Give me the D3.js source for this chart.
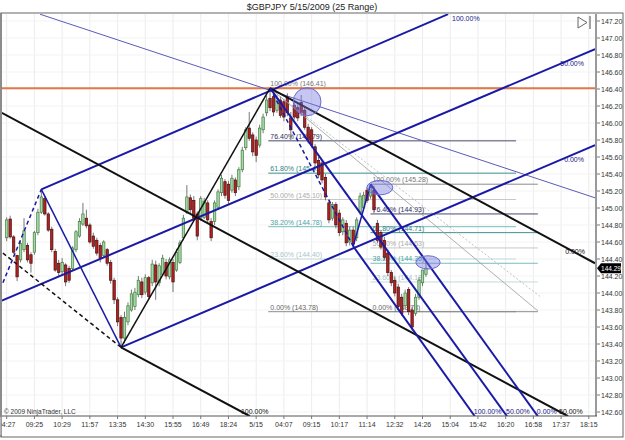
<!DOCTYPE html>
<html>
<head>
<meta charset="utf-8">
<script src="https://cdn.jsdelivr.net/npm/d3@7"></script>
<style>
  body { margin: 0; background: #fff; }
  text { font-family: "Liberation Sans", Arial, sans-serif; }
</style>
</head>
<body>
<div id="chart"></div>
<script>
// $GBPJPY 25 range bars, 5/15/2009
const barOpen = [144.65,144.87,144.66,144.44,144.39,144.51,144.56,144.45,144.48,144.71,144.95,145.11,144.93,144.75,144.49,144.35,144.25,144.33,144.29,144.29,144.51,144.67,144.81,144.88,144.80,144.67,144.62,144.56,144.44,144.51,144.36,144.15,143.92,143.71,143.47,143.66,143.80,143.84,143.98,144.13,144.01,144.18,144.12,144.33,144.12,144.22,144.36,144.19,144.36,144.27,144.36,144.65,144.95,145.12,145.09,144.93,144.88,144.89,145.06,144.84,144.84,145.01,145.18,145.31,145.28,145.21,145.33,145.25,145.45,145.71,145.94,145.86,145.80,145.74,145.92,146.12,146.29,146.31,146.15,146.27,146.25,146.31,146.06,146.21,146.18,146.24,146.15,145.95,145.92,145.72,145.56,145.53,145.36,145.06,144.88,145.04,144.94,144.72,144.82,144.60,144.74,144.65,144.95,145.00,145.21,145.14,145.21,144.82,144.71,144.62,144.47,144.24,144.15,144.07,143.95,143.85,144.04,143.80,143.76,143.95,144.12,144.22];
const barHigh = [144.89,144.91,144.68,144.45,144.61,144.88,144.59,144.48,144.73,144.99,145.22,145.14,144.95,144.78,144.52,144.39,144.41,144.35,144.32,144.55,144.74,144.88,145.06,144.98,144.82,144.71,144.65,144.59,144.62,144.53,144.39,144.18,143.95,143.74,143.78,143.89,144.04,144.06,144.20,144.18,144.22,144.20,144.39,144.38,144.35,144.45,144.40,144.42,144.40,144.52,144.62,144.92,145.27,145.16,145.14,144.96,145.14,145.12,145.09,144.88,145.09,145.22,145.39,145.34,145.32,145.39,145.36,145.48,145.72,145.95,146.13,145.89,145.84,145.98,146.11,146.32,146.41,146.34,146.33,146.31,146.28,146.35,146.13,146.24,146.22,146.33,146.19,145.99,145.95,145.75,145.60,145.56,145.40,145.09,145.07,145.07,144.98,144.89,144.86,144.78,144.78,144.89,145.18,145.19,145.24,145.28,145.26,144.86,144.74,144.66,144.51,144.27,144.19,144.11,143.99,144.04,144.07,143.84,143.99,144.19,144.27,144.36];
const barLow = [144.61,144.64,144.46,144.14,144.36,144.48,144.36,144.24,144.45,144.68,144.93,144.91,144.72,144.48,144.25,144.19,144.21,144.08,144.12,144.27,144.48,144.65,144.79,144.76,144.58,144.52,144.44,144.36,144.41,144.32,144.11,143.87,143.61,143.36,143.41,143.62,143.78,143.80,143.95,143.94,143.98,143.92,144.08,143.92,144.08,144.20,144.16,144.16,144.01,144.25,144.34,144.62,144.93,144.94,144.85,144.62,144.85,144.87,144.82,144.61,144.80,144.98,145.14,145.11,145.05,145.18,145.14,145.21,145.42,145.68,145.79,145.61,145.54,145.71,145.88,146.08,146.14,146.08,146.12,146.06,146.02,146.08,145.80,146.04,146.02,146.08,145.92,145.76,145.71,145.49,145.35,145.29,145.09,144.82,144.85,144.76,144.67,144.68,144.55,144.56,144.54,144.61,144.92,144.96,145.06,145.11,144.94,144.59,144.51,144.39,144.20,144.08,143.96,143.80,143.73,143.81,143.74,143.56,143.73,143.92,144.08,144.19];
const barClose = [144.86,144.66,144.48,144.19,144.58,144.73,144.39,144.35,144.71,144.95,145.13,144.93,144.74,144.51,144.27,144.24,144.36,144.13,144.15,144.53,144.72,144.84,144.93,144.79,144.60,144.55,144.47,144.41,144.60,144.35,144.15,143.92,143.66,143.47,143.71,143.85,143.99,144.01,144.15,143.98,144.18,143.96,144.34,144.13,144.32,144.41,144.20,144.39,144.13,144.48,144.59,144.88,145.13,144.98,144.88,144.67,145.11,145.08,144.86,144.65,145.06,145.19,145.35,145.15,145.09,145.35,145.18,145.45,145.68,145.92,145.82,145.66,145.62,145.94,146.07,146.27,146.18,146.13,146.29,146.09,146.07,146.12,145.92,146.07,146.06,146.12,145.95,145.80,145.74,145.53,145.39,145.33,145.13,144.86,145.04,144.80,144.71,144.86,144.59,144.74,144.58,144.86,145.14,145.15,145.09,145.24,144.98,144.62,144.54,144.42,144.24,144.12,144.00,143.84,143.76,144.00,143.78,143.60,143.95,144.15,144.27,144.29];

const timeLabels = ["04:27","09:25","10:29","11:57","13:35","14:30","15:55","16:49","18:24","5/15","04:07","09:15","10:17","11:14","12:32","14:26","15:04","15:42","16:20","16:58","17:37","18:15"];
const priceTicks = [147.20,147.00,146.80,146.60,146.40,146.20,146.00,145.80,145.60,145.40,145.20,145.00,144.80,144.60,144.40,144.20,144.00,143.80,143.60,143.40,143.20,143.00,142.80,142.60];
const lastPrice = 144.29;
const swingHighLine = 146.41;

// pitchforks: each line is [[bar, price], [bar, price]]
const forkLevels = ["100.00%", "50.00%", "0.00%"];
const blueForkUp = [[[10,145.22],[127.4,147.28]], [[-1.4,143.91],[169.8,146.87]], [[33,143.36],[169.8,145.74]]];
const blueForkUpHandle = [[-1.1,144.12],[10,145.22],[33,143.36]];
const blackFork = [[[33,143.36],[70.2,142.55]], [[-1.4,146.12],[162,142.55]], [[76,146.41],[169.8,144.35]]];
const blackForkHandle = [[-1.1,144.47],[33,143.36],[76,146.41]];
const blueForkDown = [[[100,144.55],[135.1,142.55]], [[76,146.41],[144.4,142.55]], [[105,145.28],[153.3,142.55]]];
const blueForkDownHandle = [[76,146.41],[100,144.55],[105,145.28]];

const thinTrend = [[9.6,147.28],[169.8,145.12]];
const grayRays = [[[76,146.41],[153.3,143.79]], [[80.3,146.27],[153.9,143.96]]];

// fibonacci retracements
const fibRatios = ["100.00%","76.40%","61.80%","50.00%","38.20%","23.60%","0.00%"];
const fibPricesA = [146.41,145.79,145.41,145.10,144.78,144.40,143.78];
const fibPricesB = [145.28,144.93,144.71,144.53,144.35,144.13,143.78];
const fibSpanA = [75.5, 147];
const fibSpanB = [105, 153.3];

// ellipses: [bar, price, bar radius, price radius]
const ellipses = [[86.7,146.25,4.0,0.165],[107.7,145.24,3.75,0.085],[121.6,144.36,3.5,0.078]];

function createChart(elementId) {
  const width = 625, height = 440;
  const plot = {left: 2, right: 595, top: 14, bottom: 416};

  const svg = d3.select(elementId).append("svg")
    .attr("width", width).attr("height", height);

  const x = d3.scaleLinear().domain([0, 168]).range([6.7, 588.8]);
  const y = d3.scaleLinear().domain([142.6, 147.2]).range([412, 21]);

  svg.append("defs").append("clipPath").attr("id", "plotclip")
    .append("rect").attr("x", plot.left).attr("y", plot.top)
    .attr("width", plot.right - plot.left).attr("height", plot.bottom - plot.top);

  // title and frame
  svg.append("text").attr("x", 312).attr("y", 10).attr("text-anchor", "middle")
    .attr("font-size", 9).attr("fill", "#222").text("$GBPJPY  5/15/2009 (25 Range)");
  svg.append("rect").attr("x", 1).attr("y", 13).attr("width", 622).attr("height", 424)
    .attr("fill", "none").attr("stroke", "#666").attr("stroke-width", 1);

  // grid
  const grid = svg.append("g").attr("clip-path", "url(#plotclip)");
  grid.selectAll(".vgrid").data(timeLabels).join("line")
    .attr("x1", (d, i) => x(i * 8)).attr("x2", (d, i) => x(i * 8))
    .attr("y1", plot.top).attr("y2", plot.bottom)
    .attr("stroke", "#ececec").attr("stroke-width", 1);
  grid.selectAll(".hgrid").data(priceTicks).join("line")
    .attr("x1", plot.left).attr("x2", plot.right)
    .attr("y1", d => y(d)).attr("y2", d => y(d))
    .attr("stroke", "#f3f3f3").attr("stroke-width", 1);

  const g = svg.append("g").attr("clip-path", "url(#plotclip)");
  const line = d3.line().x(d => x(d[0])).y(d => y(d[1]));

  // fib retracements
  const fibLine = ["#8c8c8c","#4b4b70","#3f8f8f","#c8c8c8","#78bcbc","#c4dada","#8c8c8c"];
  const fibText = ["#777","#30305a","#2f7f7f","#aaa","#4aa4a4","#a8c6c6","#666"];
  [[fibPricesA, fibSpanA], [fibPricesB, fibSpanB]].forEach(([prices, span]) => {
    g.append("g").selectAll("line").data(prices).join("line")
      .attr("x1", x(span[0])).attr("x2", x(span[1]))
      .attr("y1", d => y(d)).attr("y2", d => y(d))
      .attr("stroke", (d, i) => fibLine[i]).attr("stroke-width", 1);
    g.append("g").selectAll("text").data(prices).join("text")
      .attr("x", x(span[0]) + 2).attr("y", d => y(d) - 2)
      .attr("font-size", 7).attr("fill", (d, i) => fibText[i])
      .text((d, i) => `${fibRatios[i]} (${d.toFixed(2)})`);
  });

  // candles
  const bars = d3.range(barOpen.length);
  const bw = 2.4;
  g.append("g").selectAll("line").data(bars).join("line")
    .attr("x1", i => x(i)).attr("x2", i => x(i))
    .attr("y1", i => y(barHigh[i])).attr("y2", i => y(barLow[i]))
    .attr("stroke", "#555").attr("stroke-width", 0.8);
  g.append("g").selectAll("rect").data(bars).join("rect")
    .attr("x", i => x(i) - bw / 2).attr("width", bw)
    .attr("y", i => y(Math.max(barOpen[i], barClose[i])))
    .attr("height", i => Math.max(1, Math.abs(y(barOpen[i]) - y(barClose[i]))))
    .attr("fill", i => barClose[i] >= barOpen[i] ? "#a9d6a9" : "#b32020")
    .attr("stroke", i => barClose[i] >= barOpen[i] ? "#3f7f3f" : "#4a1010")
    .attr("stroke-width", 0.7);

  // horizontal line at swing high
  g.append("line").attr("x1", plot.left).attr("x2", plot.right)
    .attr("y1", y(swingHighLine)).attr("y2", y(swingHighLine))
    .attr("stroke", "#e0784a").attr("stroke-width", 2);

  // thin trend line and gray rays
  g.append("path").attr("d", line(thinTrend)).attr("fill", "none")
    .attr("stroke", "#5a5ab8").attr("stroke-width", 1);
  grayRays.forEach((r, k) => {
    g.append("path").attr("d", line(r)).attr("fill", "none")
      .attr("stroke", k ? "#b0b0b0" : "#9a9a9a").attr("stroke-width", 0.8)
      .attr("stroke-dasharray", k ? "2,2" : null);
  });

  // pitchforks
  function drawFork(lines, handle, color, labelPos) {
    lines.forEach(l => {
      g.append("path").attr("d", line(l)).attr("fill", "none")
        .attr("stroke", color).attr("stroke-width", 2);
    });
    g.append("path").attr("d", line(handle.slice(0, 2))).attr("fill", "none")
      .attr("stroke", color).attr("stroke-width", 1.5).attr("stroke-dasharray", "4,3");
    g.append("path").attr("d", line(handle.slice(1))).attr("fill", "none")
      .attr("stroke", color).attr("stroke-width", 1.5);
    lines.forEach((l, i) => {
      const p = labelPos(x(l[1][0]), y(l[1][1]));
      svg.append("text").attr("x", p[0]).attr("y", p[1])
        .attr("text-anchor", p[2]).attr("font-size", 7)
        .attr("fill", color === "#111" ? "#111" : "#20208a")
        .text(forkLevels[i]);
    });
  }
  drawFork(blueForkUp, blueForkUpHandle, "#1a1aa6", (px, py) => {
    if (py < plot.top + 5) return [452, 21, "start"];
    return [584, py + 17, "end"];
  });
  drawFork(blackFork, blackForkHandle, "#111", (px, py) => {
    if (px > plot.right - 5) return [585, py - 9, "end"];
    return [px - 9, plot.bottom - 2, "start"];
  });
  drawFork(blueForkDown, blueForkDownHandle, "#1a1aa6", (px, py) => [px - 1, plot.bottom - 2, "start"]);

  // ellipses
  g.append("g").selectAll("ellipse").data(ellipses).join("ellipse")
    .attr("cx", d => x(d[0])).attr("cy", d => y(d[1]))
    .attr("rx", d => x(d[0] + d[2]) - x(d[0]))
    .attr("ry", d => y(d[1] - d[3]) - y(d[1]))
    .attr("fill", "rgba(120,120,225,0.42)").attr("stroke", "#6a6ad2").attr("stroke-width", 1);

  // axes
  svg.append("line").attr("x1", plot.right + 1).attr("x2", plot.right + 1)
    .attr("y1", plot.top).attr("y2", plot.bottom)
    .attr("stroke", "#9a9a9a").attr("stroke-width", 2);
  svg.append("line").attr("x1", plot.left).attr("x2", plot.right + 2)
    .attr("y1", plot.bottom).attr("y2", plot.bottom)
    .attr("stroke", "#555").attr("stroke-width", 1);

  const yAxis = svg.append("g");
  yAxis.selectAll("line").data(priceTicks).join("line")
    .attr("x1", plot.right + 2).attr("x2", plot.right + 5)
    .attr("y1", d => y(d)).attr("y2", d => y(d))
    .attr("stroke", "#777");
  yAxis.selectAll("text").data(priceTicks).join("text")
    .attr("x", plot.right + 6).attr("y", d => y(d) + 2.5)
    .attr("font-size", 7).attr("fill", "#333")
    .text(d => d.toFixed(2));

  const xAxis = svg.append("g");
  xAxis.selectAll("line").data(timeLabels).join("line")
    .attr("x1", (d, i) => x(i * 8)).attr("x2", (d, i) => x(i * 8))
    .attr("y1", plot.bottom).attr("y2", plot.bottom + 3)
    .attr("stroke", "#777");
  xAxis.selectAll("text").data(timeLabels).join("text")
    .attr("x", (d, i) => x(i * 8)).attr("y", plot.bottom + 11)
    .attr("text-anchor", "middle").attr("font-size", 7).attr("fill", "#333")
    .text(d => d);
  // the first time label runs under the left frame, as in the original
  svg.append("rect").attr("x", 0).attr("y", plot.bottom + 1).attr("width", 1.5).attr("height", 18).attr("fill", "#fff");
  svg.append("line").attr("x1", 1).attr("x2", 1).attr("y1", 13).attr("y2", 437).attr("stroke", "#666");

  // last price marker
  const ly = y(lastPrice);
  svg.append("path")
    .attr("d", `M${plot.right + 2},${ly} L${plot.right + 6},${ly - 5} L${plot.right + 26},${ly - 5} L${plot.right + 26},${ly + 5} L${plot.right + 6},${ly + 5} Z`)
    .attr("fill", "#000");
  svg.append("text").attr("x", plot.right + 16).attr("y", ly + 2.5)
    .attr("text-anchor", "middle").attr("font-size", 6.5).attr("fill", "#fff")
    .text(lastPrice.toFixed(2));

  // scroll icon
  svg.append("path").attr("d", "M578,17 L578,28 L587,22.5 Z")
    .attr("fill", "none").attr("stroke", "#666").attr("stroke-width", 1);
  svg.append("line").attr("x1", 590).attr("x2", 590).attr("y1", 16).attr("y2", 29)
    .attr("stroke", "#666").attr("stroke-width", 1.2);

  svg.append("text").attr("x", 4).attr("y", plot.bottom - 2)
    .attr("font-size", 6.5).attr("fill", "#333")
    .text("\u00a9 2009 NinjaTrader, LLC");
}

createChart("#chart");
</script>
</body>
</html>
